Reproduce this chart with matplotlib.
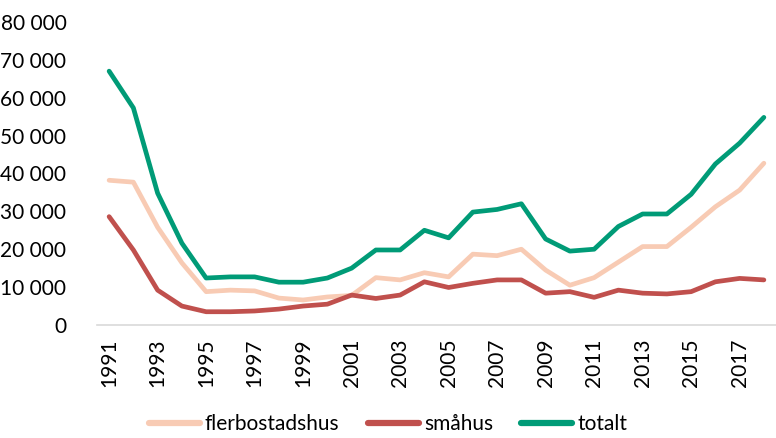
import matplotlib.pyplot as plt
import matplotlib.ticker as mticker

plt.rcParams['font.family'] = ['Lato', 'DejaVu Sans']

years = list(range(1991, 2019))
flerbostadshus = [38200, 37700, 25800, 16400, 8800, 9200, 9000, 7100, 6600, 7400,
                  7800, 12500, 11900, 13800, 12700, 18700, 18300, 20000, 14500, 10500,
                  12500, 16600, 20700, 20700, 25800, 31200, 35600, 42700]
smahus = [28600, 19800, 9200, 5000, 3500, 3500, 3700, 4200, 5000, 5500,
          7900, 7000, 7900, 11400, 9900, 11000, 11900, 11900, 8400, 8800,
          7300, 9200, 8400, 8200, 8800, 11400, 12300, 11900]
totalt = [67000, 57300, 34800, 21600, 12400, 12700, 12700, 11300, 11300, 12400,
          15000, 19800, 19800, 25000, 23000, 29800, 30500, 32000, 22700, 19500,
          20000, 26000, 29300, 29300, 34500, 42500, 48000, 54800]
labels = ['flerbostadshus', 'småhus', 'totalt']
colors = ['#F8CBB4', '#C0504D', '#009B77']

fig = plt.figure(figsize=(7.76, 4.38), dpi=100)
ax = fig.add_axes([0.125, 0.258, 0.875, 0.692])

for vals, lab, col in zip([flerbostadshus, smahus, totalt], labels, colors):
    ax.plot(years, vals, color=col, lw=3.4, label=lab, solid_capstyle='round')

ax.set_xlim(1990.5, 2018.5)
ax.set_ylim(0, 80000)
ax.set_yticks(range(0, 80001, 10000))
ax.yaxis.set_major_formatter(mticker.FuncFormatter(lambda v, p: f'{int(v):,}'.replace(',', ' ')))
ax.set_xticks(years[::2])
ax.set_xticklabels([str(y) for y in years[::2]], rotation=90)
ax.tick_params(axis='both', length=0, labelsize=15, colors='#000000')
ax.tick_params(axis='y', pad=22)
ax.tick_params(axis='x', pad=10)
for s in ['top', 'right', 'left']:
    ax.spines[s].set_visible(False)
ax.spines['bottom'].set_color('#D9D9D9')
ax.spines['bottom'].set_linewidth(1.2)

leg = fig.legend(loc='center', ncol=3, frameon=False, fontsize=15,
                 bbox_to_anchor=(0.5, 0.032), handlelength=2.45, handletextpad=0.25,
                 columnspacing=1.35, borderaxespad=0, borderpad=0)
for h in leg.get_lines():
    h.set_linewidth(4.5)

fig.savefig('out.png', dpi=100)
